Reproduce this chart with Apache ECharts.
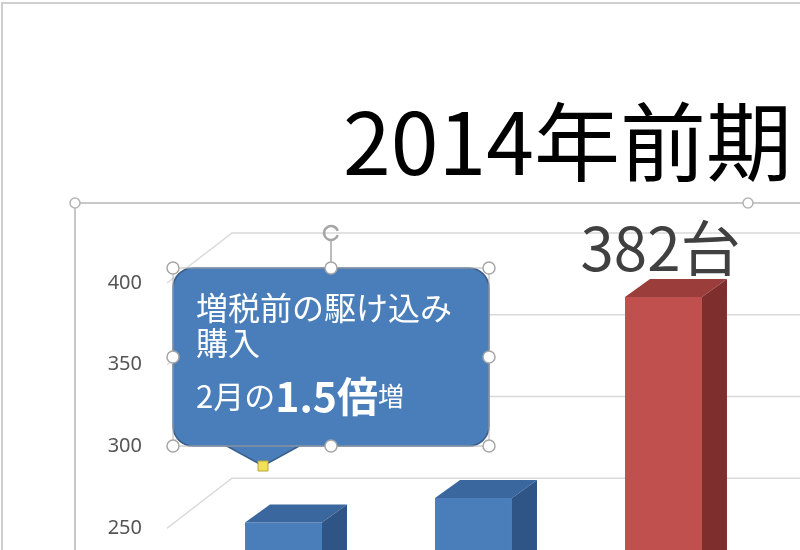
<!DOCTYPE html>
<html>
<head>
<meta charset="utf-8">
<title>2014年前期</title>
<script src="https://cdn.jsdelivr.net/npm/echarts@6/dist/echarts.min.js"></script>
<style>
    html, body { margin: 0; padding: 0; background: #fff; }
    #main { width: 800px; height: 550px; }
</style>
</head>
<body>
<div id="main"></div>
<script>
// 数据
var months = ['1月', '2月', '3月'];
var sales = [244, 259, 382];
var highlight = [false, false, true];
var yTicks = [250, 300, 350, 400];
var yMin = 200, yMax = 400, yStep = 50;
var titleText = '2014年前期';
var unit = '台';
var noteLine1 = '増税前の駆け込み';
var noteLine2 = '購入';
var notePre = '2月の', noteBig = '1.5倍', notePost = '増';

(function (win) {
    var chart = {
        init: function () {
            this.myChart = echarts.init(document.getElementById('main'));
            this.myChart.setOption(this.getOption());
        },
        // 3D柱子
        renderBar: function (params, api) {
            var idx = api.value(0);
            var val = api.value(1);
            var top = api.coord([idx, val]);
            var base = api.coord([idx, yMin]);
            var w = api.size([1, 0])[0] * 0.405;
            var x0 = top[0] + 21.5 - w / 2, x1 = x0 + w;
            var y0 = top[1] - 15.5, y1 = base[1] - 15.5;
            var dx = 25, dy = -18;
            var hot = highlight[idx];
            var c = hot ? ['#c0504d', '#9b3d3a', '#7e2f2d'] : ['#4a7ebb', '#3b679f', '#2f5587'];
            var kids = [{
                type: 'rect',
                shape: {x: x0, y: y0, width: w, height: y1 - y0},
                style: {fill: c[0]}
            }, {
                type: 'polygon',
                shape: {points: [[x0, y0], [x0 + dx, y0 + dy], [x1 + dx, y0 + dy], [x1, y0]]},
                style: {fill: c[1]}
            }, {
                type: 'polygon',
                shape: {points: [[x1, y0], [x1 + dx, y0 + dy], [x1 + dx, y1 + dy], [x1, y1]]},
                style: {fill: c[2]}
            }];
            if (hot) {
                kids.push({
                    type: 'text',
                    style: {
                        x: x0 + w / 2 - 3, y: y0 - 49,
                        text: val + unit,
                        fill: '#404040',
                        font: '60px "Noto Sans CJK JP"',
                        align: 'center', verticalAlign: 'middle'
                    }
                });
            }
            return {type: 'group', children: kids};
        },
        // 背面网格线
        renderGrid: function (params, api) {
            var cs = params.coordSys;
            var y = api.coord([0, api.value(0)])[1];
            return {
                type: 'polyline',
                shape: {points: [[cs.x, y], [cs.x + 65, y - 50], [cs.x + cs.width + 80, y - 50]]},
                style: {stroke: '#d9d9d9', lineWidth: 1.5, fill: null}
            };
        },
        getNote: function () {
            var handles = [[173, 268], [331, 268], [489, 268], [173, 357], [489, 357], [173, 446], [331, 446], [489, 446]];
            var font = '"Noto Sans CJK JP"';
            var kids = [{
                type: 'polygon',
                shape: {points: [[223, 444], [303, 444], [263, 466]]},
                style: {fill: '#4a7ebb', stroke: '#385d8a', lineWidth: 1.5}
            }, {
                type: 'rect',
                shape: {x: 173, y: 268, width: 316, height: 178, r: 20},
                style: {fill: '#4a7ebb', stroke: '#385d8a', lineWidth: 1.5}
            }, {
                type: 'rect',
                shape: {x: 173, y: 268, width: 316, height: 178},
                style: {fill: null, stroke: '#b4b4b4', lineWidth: 1}
            }, {
                type: 'text',
                style: {x: 196, y: 308, text: noteLine1, fill: '#fff', font: '32px ' + font, verticalAlign: 'middle'}
            }, {
                type: 'text',
                style: {x: 196, y: 343, text: noteLine2, fill: '#fff', font: '32px ' + font, verticalAlign: 'middle'}
            }, {
                type: 'text',
                style: {
                    x: 196, y: 396, verticalAlign: 'middle',
                    text: '{a|' + notePre + '}{b|' + noteBig + '}{c|' + notePost + '}',
                    rich: {
                        a: {fontSize: 31, fill: '#fff', fontFamily: font},
                        b: {fontSize: 41, fill: '#fff', fontWeight: 'bold', fontFamily: font},
                        c: {fontSize: 26, fill: '#fff', fontFamily: font}
                    }
                }
            }, {
                type: 'line',
                shape: {x1: 331, y1: 240, x2: 331, y2: 268},
                style: {stroke: '#a6a6a6', lineWidth: 1.5}
            }, {
                type: 'arc',
                shape: {cx: 331, cy: 233, r: 7, startAngle: 0.3, endAngle: Math.PI * 2 - 0.3},
                style: {stroke: '#a6a6a6', lineWidth: 2.5, fill: null}
            }, {
                type: 'rect',
                shape: {x: 258, y: 461, width: 10, height: 10},
                style: {fill: '#f3e05a', stroke: '#b8a437', lineWidth: 1}
            }];
            for (var i = 0; i < handles.length; i++) {
                kids.push({
                    type: 'circle',
                    shape: {cx: handles[i][0], cy: handles[i][1], r: 6},
                    style: {fill: '#fff', stroke: '#a6a6a6', lineWidth: 1.5}
                });
            }
            // 提示框要压在柱子和网格线上面
            for (var k = 0; k < kids.length; k++) {
                kids[k].z = 100 + k;
            }
            return {type: 'group', children: kids};
        },
        getOption: function () {
            var barData = [];
            for (var i = 0; i < sales.length; i++) {
                barData.push([i, sales[i]]);
            }
            var gridData = [];
            for (var j = 0; j < yTicks.length; j++) {
                gridData.push([yTicks[j]]);
            }
            return {
                animation: false,
                backgroundColor: '#fff',
                title: {
                    text: titleText,
                    left: 338, top: 94,
                    textStyle: {fontSize: 86, fontWeight: 'normal', color: '#000', fontFamily: 'Noto Sans CJK JP'}
                },
                grid: {
                    left: 167, right: 63, top: 283, bottom: -60,
                    containLabel: false, outerBoundsMode: 'none'
                },
                xAxis: {type: 'category', data: months, show: false},
                yAxis: {
                    type: 'value', min: yMin, max: yMax, interval: yStep,
                    axisLine: {show: false}, axisTick: {show: false}, splitLine: {show: false},
                    axisLabel: {margin: 25, fontSize: 20, color: '#555', fontFamily: 'Noto Sans'}
                },
                graphic: [{
                    type: 'rect', z: -10,
                    shape: {x: 2, y: 3, width: 900, height: 700},
                    style: {fill: null, stroke: '#cfcfcf', lineWidth: 2}
                }, {
                    type: 'polyline', z: -10,
                    shape: {points: [[75, 600], [75, 203], [900, 203]]},
                    style: {fill: null, stroke: '#c8c8c8', lineWidth: 2}
                }, {
                    type: 'circle', z: 5,
                    shape: {cx: 75, cy: 203, r: 5},
                    style: {fill: '#fff', stroke: '#b4b4b4', lineWidth: 1.5}
                }, {
                    type: 'circle', z: 5,
                    shape: {cx: 748, cy: 203, r: 5},
                    style: {fill: '#fff', stroke: '#b4b4b4', lineWidth: 1.5}
                }, this.getNote()],
                series: [{
                    type: 'custom',
                    renderItem: this.renderGrid,
                    data: gridData,
                    z: 1,
                    silent: true
                }, {
                    type: 'custom',
                    renderItem: this.renderBar,
                    data: barData,
                    z: 2
                }]
            };
        }
    };
    chart.init();
})(window);
</script>
</body>
</html>
